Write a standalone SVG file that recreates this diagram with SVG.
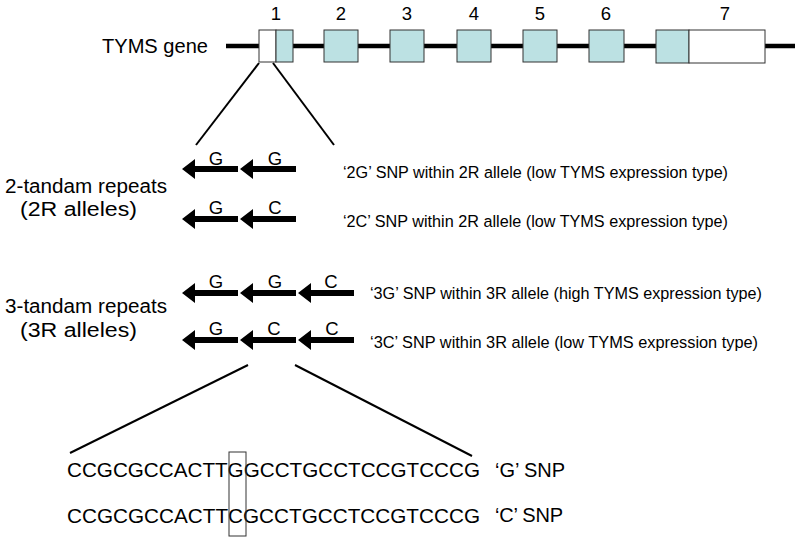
<svg xmlns="http://www.w3.org/2000/svg" width="800" height="540" viewBox="0 0 800 540">
<style>
text{font-family:"Liberation Sans",Arial,sans-serif;fill:#000}
.lbl{font-size:20px}
.num{font-size:18.5px;text-anchor:middle}
.nt{font-size:18.5px;text-anchor:middle}
.desc{font-size:16.3px}
.seq{font-size:20.7px}
.snp{font-size:20px}
.exon{fill:#bce1e3;stroke:#333;stroke-width:1}
.utr{fill:#fff;stroke:#333;stroke-width:1}
.conn{stroke:#000;stroke-width:2;fill:none}
</style>
<defs>
<path id="arr" d="M0,0 L13,-10 L13,-3 L56,-3 L56,3 L13,3 L13,10 Z" fill="#000"/>
</defs>
<rect width="800" height="540" fill="#fff"/>

<g id="gene">
<text class="lbl" x="102" y="53" textLength="106" lengthAdjust="spacingAndGlyphs">TYMS gene</text>
<line x1="226" y1="46" x2="795" y2="46" stroke="#000" stroke-width="4.5"/>
</g>
<g id="exon1">
<rect class="utr" x="259" y="30" width="17" height="32"/>
<rect class="exon" x="276" y="30" width="17" height="32"/>
<text class="num" x="276" y="20">1</text>
</g>
<g id="exon2"><rect class="exon" x="324" y="30" width="34" height="32"/><text class="num" x="341" y="20">2</text></g>
<g id="exon3"><rect class="exon" x="390" y="30" width="34" height="32"/><text class="num" x="407" y="20">3</text></g>
<g id="exon4"><rect class="exon" x="457" y="30" width="34" height="32"/><text class="num" x="474" y="20">4</text></g>
<g id="exon5"><rect class="exon" x="523" y="30" width="34" height="32"/><text class="num" x="540" y="20">5</text></g>
<g id="exon6"><rect class="exon" x="589" y="30" width="35" height="32"/><text class="num" x="606" y="20">6</text></g>
<g id="exon7">
<rect class="exon" x="656" y="30" width="33" height="33"/>
<rect class="utr" x="689" y="30" width="76" height="33"/>
<text class="num" x="725" y="20">7</text>
</g>

<g id="connectors">
<line class="conn" x1="259" y1="63" x2="196" y2="145"/>
<line class="conn" x1="273" y1="63" x2="334" y2="145"/>
<line class="conn" x1="248" y1="365" x2="70" y2="453"/>
<line class="conn" x1="295" y1="365" x2="472" y2="456"/>
</g>

<g id="label-2R">
<text class="lbl" x="5" y="193" textLength="162" lengthAdjust="spacingAndGlyphs">2-tandam repeats</text>
<text class="lbl" x="20" y="216" textLength="117" lengthAdjust="spacingAndGlyphs">(2R alleles)</text>
</g>
<g id="label-3R">
<text class="lbl" x="5" y="313" textLength="162" lengthAdjust="spacingAndGlyphs">3-tandam repeats</text>
<text class="lbl" x="20" y="337" textLength="117" lengthAdjust="spacingAndGlyphs">(3R alleles)</text>
</g>

<g id="row-2G">
<use href="#arr" x="182" y="169"/>
<use href="#arr" x="240" y="169"/>
<text class="nt" x="216" y="165">G</text>
<text class="nt" x="275" y="165">G</text>
<text class="desc" x="343" y="178" textLength="385" lengthAdjust="spacingAndGlyphs">‘2G’ SNP within 2R allele (low TYMS expression type)</text>
</g>
<g id="row-2C">
<use href="#arr" x="182" y="219"/>
<use href="#arr" x="240" y="219"/>
<text class="nt" x="216" y="214">G</text>
<text class="nt" x="275" y="214">C</text>
<text class="desc" x="343" y="227" textLength="385" lengthAdjust="spacingAndGlyphs">‘2C’ SNP within 2R allele (low TYMS expression type)</text>
</g>
<g id="row-3G">
<use href="#arr" x="182" y="293"/>
<use href="#arr" x="240" y="293"/>
<use href="#arr" x="298" y="293"/>
<text class="nt" x="216" y="288">G</text>
<text class="nt" x="275" y="288">G</text>
<text class="nt" x="331" y="288">C</text>
<text class="desc" x="370" y="299" textLength="392" lengthAdjust="spacingAndGlyphs">‘3G’ SNP within 3R allele (high TYMS expression type)</text>
</g>
<g id="row-3C">
<use href="#arr" x="182" y="340"/>
<use href="#arr" x="240" y="340"/>
<use href="#arr" x="298" y="340"/>
<text class="nt" x="216" y="335">G</text>
<text class="nt" x="274" y="335">C</text>
<text class="nt" x="332" y="335">C</text>
<text class="desc" x="370" y="348" textLength="388" lengthAdjust="spacingAndGlyphs">‘3C’ SNP within 3R allele (low TYMS expression type)</text>
</g>

<g id="sequences">
<text class="seq" x="67" y="477" textLength="413" lengthAdjust="spacingAndGlyphs">CCGCGCCACTTGGCCTGCCTCCGTCCCG</text>
<text class="seq" x="67" y="523" textLength="413" lengthAdjust="spacingAndGlyphs">CCGCGCCACTTCGCCTGCCTCCGTCCCG</text>
<rect x="229" y="452" width="17" height="84" fill="none" stroke="#333" stroke-width="1"/>
<text class="snp" x="495" y="477" textLength="70" lengthAdjust="spacing">‘G’ SNP</text>
<text class="snp" x="495" y="522" textLength="68" lengthAdjust="spacing">‘C’ SNP</text>
</g>
</svg>
